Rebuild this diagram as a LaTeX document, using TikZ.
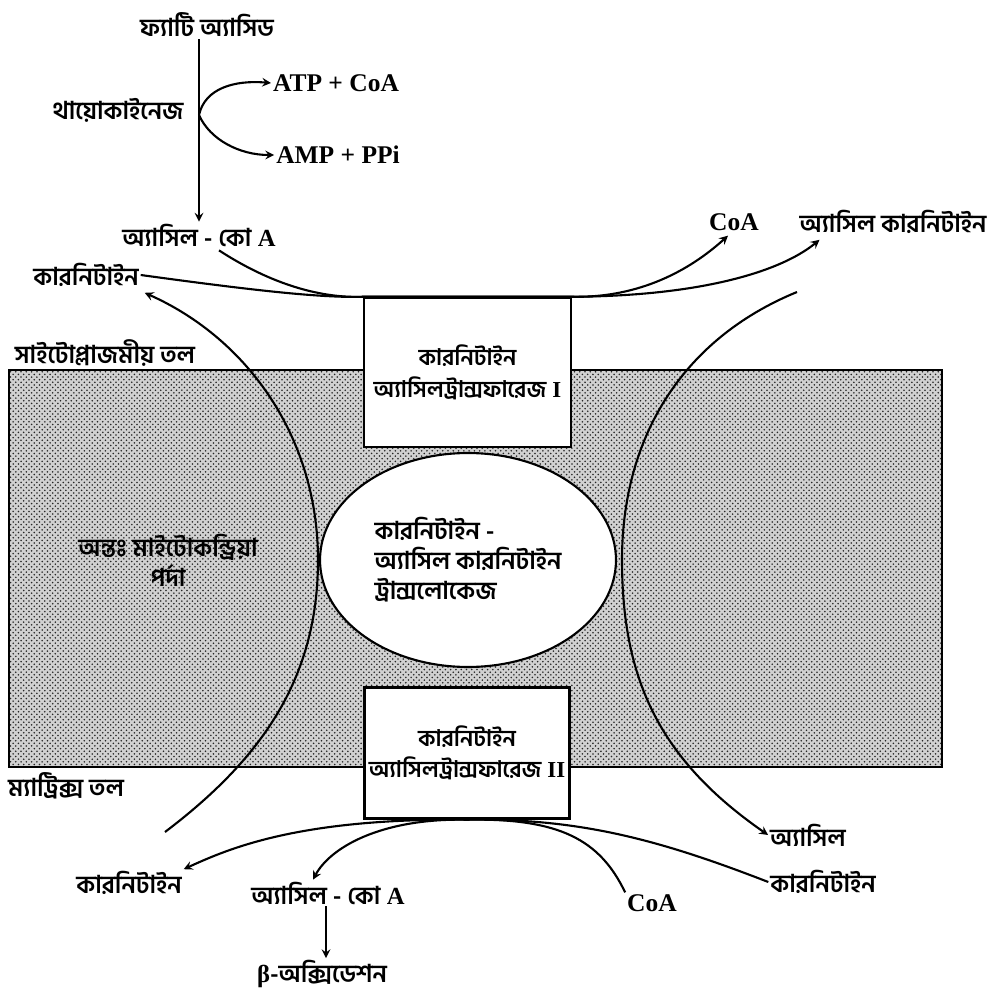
\documentclass[tikz,border=0pt]{standalone}
\usepackage{fontspec}
\setmainfont{Liberation Serif}
\newfontfamily\bn[Script=Bengali]{Hind Siliguri}
\usetikzlibrary{patterns,calc,shapes.geometric}
\begin{document}
\begin{tikzpicture}[>=stealth,x=0.02cm,y=-0.02cm,
  bntxt/.style={font=\bn\fontsize{14}{17}\selectfont\bfseries,inner sep=1pt},
  latxt/.style={font=\fontsize{14.5}{17}\selectfont\bfseries,inner sep=1pt},
  enzbox/.style={draw,line width=1.4pt,fill=white,align=center,bntxt,
    font=\bn\fontsize{13}{18}\selectfont\bfseries},
  transell/.style={ellipse,draw,line width=1.2pt,fill=white,align=left,bntxt,
    minimum width=5.92cm,minimum height=4.28cm},
  flow/.style={line width=1.2pt}]
\useasboundingbox (0,0) rectangle (991,999);
% পর্দা
\fill[black!18] (9,370) rectangle (942,767);
\fill[pattern=crosshatch dots,pattern color=black!85] (9,370) rectangle (942,767);
\draw[line width=1.4pt] (9,370) rectangle (942,767);
% উপরের অংশ
\node[bntxt] (fatty) at (207,25) {ফ্যাটি অ্যাসিড};
\node[bntxt] (thio) at (118,110) {থায়োকাইনেজ};
\node[latxt] (atp) at (336,83) {ATP + CoA};
\node[latxt] (amp) at (338,155) {AMP + PPi};
\node[bntxt] (acoaT) at (199,235) {অ্যাসিল - কো \textrm{A}};
\node[bntxt] (carnT) at (86,275) {কারনিটাইন};
\node[latxt] (coaT) at (734,222) {CoA};
\node[bntxt] (acarnT) at (893,222) {অ্যাসিল কারনিটাইন};
\node[bntxt] (cyto) at (105,353) {সাইটোপ্লাজমীয় তল};
\node[bntxt,align=center] (inner) at (168,560) {অন্তঃ মাইটোকন্ড্রিয়া\\পর্দা};
\node[bntxt] (matrix) at (66,786) {ম্যাট্রিক্স তল};
% নিচের অংশ
\node[bntxt] (carnB) at (129,883) {কারনিটাইন};
\node[bntxt] (acoaB) at (328,893) {অ্যাসিল - কো \textrm{A}};
\node[bntxt] (beta) at (322,974) {\textrm{β}-অক্সিডেশন};
\node[latxt] (coaB) at (652,903) {CoA};
\node[bntxt] (carnB2) at (823,882) {কারনিটাইন};
\node[bntxt] (acyl) at (808,835) {অ্যাসিল};
% থায়োকাইনেজ ধাপ
\draw[flow,->] (acoaT |- fatty.south) -- (acoaT.north);
\coordinate (split) at (199,115);
\draw[flow,->] (split) .. controls (205,88) and (235,80) .. (atp.west);
\draw[flow,->] (split) .. controls (210,140) and (240,155) .. (amp.west);
% পর্দার ভিতর দিয়ে
\coordinate (lfoot) at (165,832);
\coordinate (rtop) at (797,292);
\draw[flow,->] (lfoot) .. controls (260,760) and (318,680) .. (318,560)
  .. controls (318,440) and (250,340) .. ($(carnT.south east)+(4,4)$);
\draw[flow,->] (rtop) .. controls (680,340) and (622,440) .. (622,560)
  .. controls (622,680) and (660,760) .. (acyl.west);
% এনজাইম
\node[enzbox,minimum width=4.14cm,minimum height=2.98cm] (cat1) at (467.5,372.5) {কারনিটাইন\\অ্যাসিলট্রান্সফারেজ \textrm{I}};
\node[transell] (trans) at (468,560) {কারনিটাইন -\\অ্যাসিল কারনিটাইন\\ট্রান্সলোকেজ};
\node[enzbox,minimum width=4.1cm,minimum height=2.62cm] (cat2) at (467,753) {কারনিটাইন\\অ্যাসিলট্রান্সফারেজ \textrm{II}};
% বিক্রিয়া I
\draw[flow,->] ($(acoaT.south)+(20,2)$) .. controls (280,290) and (330,298) .. (cat1.north west)
  -- (cat1.north east) .. controls (640,298) and (690,270) .. ($(coaT.south)+(-6,3)$);
\draw[flow,->] (carnT.east) .. controls (250,290) and (320,298) .. (cat1.north west)
  -- (cat1.north east) .. controls (700,296) and (780,272) .. ($(acarnT.south west)+(22,4)$);
% বিক্রিয়া II
\draw[flow,->] (coaB.north west) .. controls (600,840) and (560,818) .. (cat2.south)
  .. controls (380,818) and (330,848) .. ($(acoaB.north)+(-15,0)$);
\draw[flow,->] (carnB2.west) .. controls (660,840) and (580,818) .. (cat2.south)
  .. controls (300,818) and (230,848) .. (carnB.north east);
\draw[flow,->] ($(acoaB.south)+(-2,0)$) -- ($(beta.north)+(4,0)$);
\end{tikzpicture}
\end{document}
